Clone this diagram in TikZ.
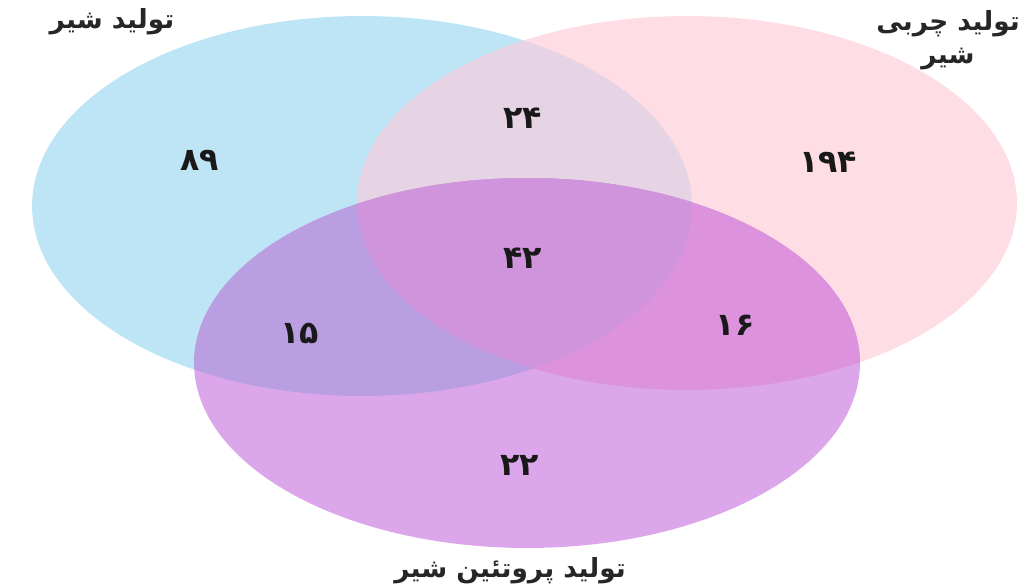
\documentclass[tikz,border=0pt]{standalone}
\usepackage{fontspec}
\newfontfamily\farsifont[Script=Arabic]{DejaVu Sans}
\TeXXeTstate=1

\definecolor{milkblue}{HTML}{BEE5F5}
\definecolor{fatpink}{HTML}{FFDDE4}
\definecolor{proteinviolet}{HTML}{DCA7EA}
\definecolor{milkfat}{HTML}{E6D4E4}
\definecolor{milkprotein}{HTML}{B99EE1}
\definecolor{fatprotein}{HTML}{DC92DC}
\definecolor{allthree}{HTML}{CF94DB}

\def\milkset{(362,206) ellipse [x radius=6.6cm, y radius=3.8cm]}
\def\fatset{(687,203) ellipse [x radius=6.6cm, y radius=3.74cm]}
\def\proteinset{(527,363) ellipse [x radius=6.66cm, y radius=3.7cm]}

\begin{document}
\begin{tikzpicture}[
    x=0.02cm, y=-0.02cm,
    setlabel/.style={font=\farsifont\bfseries\fontsize{15}{19}\selectfont, align=center, inner sep=0pt, text=black!85},
    count/.style={font=\farsifont\bfseries\fontsize{18}{20}\selectfont, inner sep=0pt, text=black!90}
]
\useasboundingbox (0,0) rectangle (1033,587);

% Sets
\fill[milkblue] \milkset;
\fill[fatpink] \fatset;
\fill[proteinviolet] \proteinset;

% Overlaps
\begin{scope}
  \clip \milkset;
  \fill[milkfat] \fatset;
  \fill[milkprotein] \proteinset;
\end{scope}
\begin{scope}
  \clip \fatset;
  \fill[fatprotein] \proteinset;
  \clip \milkset;
  \fill[allthree] \proteinset;
\end{scope}

% Set names
\node[setlabel] (milk) at (112,22) {\beginR تولید شیر\endR};
\node[setlabel] (fat) at (948,40) {\beginR تولید چربی\endR\\\beginR شیر\endR};
\node[setlabel] (protein) at (510,571) {\beginR تولید پروتئین شیر\endR};

% Counts
\node[count] (onlymilk) at (200,160) {۸۹};
\node[count] (milkfatonly) at (523,118) {۲۴};
\node[count] (onlyfat) at (828,162) {۱۹۴};
\node[count] (center) at (523,258) {۴۲};
\node[count] (milkproteinonly) at (300,333) {۱۵};
\node[count] (fatproteinonly) at (735,325) {۱۶};
\node[count] (onlyprotein) at (520,465) {۲۲};

\end{tikzpicture}
\end{document}
